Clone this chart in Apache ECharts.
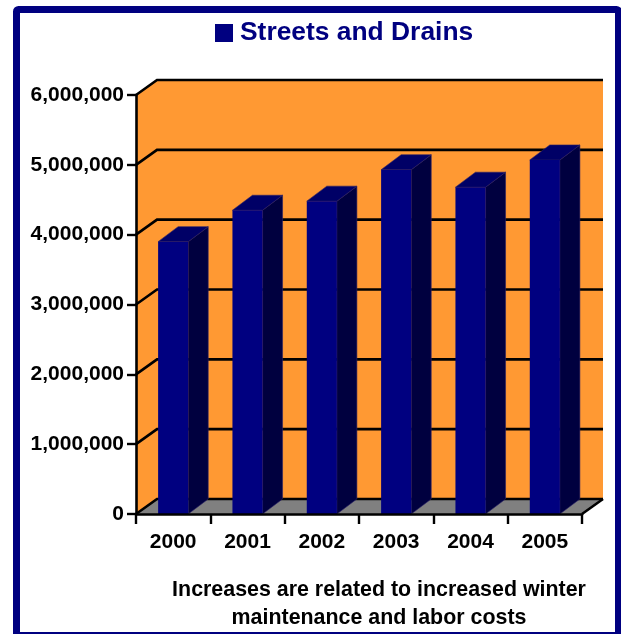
<!DOCTYPE html>
<html>
<head>
<meta charset="utf-8">
<style>html,body{margin:0;padding:0;background:#fff;overflow:hidden}#c{width:621px;height:634px}</style>
<script src="https://cdn.jsdelivr.net/npm/echarts@6/dist/echarts.min.js"></script>
</head>
<body>
<div id="c"></div>
<script>
const seriesName = 'Streets and Drains';
const years = ['2000', '2001', '2002', '2003', '2004', '2005'];
const costs = [3900000, 4350000, 4480000, 4930000, 4680000, 5070000];
const yTicks = [0, 1000000, 2000000, 3000000, 4000000, 5000000, 6000000];
const noteText = 'Increases are related to increased winter\nmaintenance and labor costs';

const DX = 21, DY = -15;
const FONT = '"Liberation Sans", Arial, sans-serif';
const chart = echarts.init(document.getElementById('c'), null, {renderer: 'canvas'});

function poly(points, fill, z2, stroke, lw) {
  return {type: 'polygon', z2: z2 || 0, shape: {points},
    style: {fill, stroke: stroke || null, lineWidth: lw || 0}};
}
function line(points, z2) {
  return {type: 'polyline', z2: z2 || 1, shape: {points},
    style: {fill: null, stroke: '#000', lineWidth: 2.6}};
}

function renderWalls(params, api) {
  const cs = params.coordSys;
  const l = cs.x, r = cs.x + cs.width;
  const y0 = api.coord([years[0], yTicks[0]])[1];
  const yT = api.coord([years[0], yTicks[yTicks.length - 1]])[1];
  const kids = [
    poly([[l + DX, yT + DY], [r + DX, yT + DY], [r + DX, y0 + DY], [l + DX, y0 + DY]], '#FF9933'),
    poly([[l, yT], [l + DX, yT + DY], [l + DX, y0 + DY], [l, y0]], '#FF9933'),
    poly([[l, y0], [l + DX, y0 + DY], [r + DX, y0 + DY], [r, y0]], '#808080')
  ];
  yTicks.forEach(t => {
    const y = api.coord([years[0], t])[1];
    kids.push(line([[l, y], [l + DX, y + DY], [r + DX, y + DY]]));
  });
  kids.push(line([[r, y0], [r + DX, y0 + DY]]));
  return {type: 'group', children: kids};
}

function renderBar(params, api) {
  const p = api.coord([api.value(0), api.value(1)]);
  const base = api.coord([api.value(0), 0]);
  const w = api.size([1, 0])[0] * 0.405;
  const x0 = p[0] - w / 2, x1 = p[0] + w / 2, yt = p[1], yb = base[1];
  const dx = 20, dy = DY, edge = '#2a2266';
  return {type: 'group', children: [
    poly([[x1, yt], [x1 + dx, yt + dy], [x1 + dx, yb + dy], [x1, yb]], '#00003F', 1, edge, 0.6),
    poly([[x0, yt], [x0 + dx, yt + dy], [x1 + dx, yt + dy], [x1, yt]], '#000066', 1, edge, 0.6),
    poly([[x0, yt], [x1, yt], [x1, yb], [x0, yb]], '#000080', 2)
  ]};
}

chart.setOption({
  animation: false,
  backgroundColor: '#fff',
  graphic: [{
    type: 'rect', z: -10, silent: true,
    shape: {x: 16.5, y: 9.5, width: 602, height: 626, r: 2},
    style: {fill: '#fff', stroke: '#000080', lineWidth: 7}
  }],
  title: {
    text: noteText, left: 374, top: 571, textAlign: 'center',
    textStyle: {fontFamily: FONT, fontSize: 21.4, fontWeight: 'bold', color: '#000', lineHeight: 28}
  },
  legend: {
    data: [{name: seriesName, icon: 'rect'}],
    left: 210, top: 15, itemWidth: 18, itemHeight: 18, itemGap: 9,
    selectedMode: false,
    textStyle: {fontFamily: FONT, fontSize: 26.4, fontWeight: 'bold', color: '#000080', padding: [0, 0, 0, 2]}
  },
  grid: {left: 136, right: 39, top: 95, bottom: 120, containLabel: false},
  xAxis: {
    type: 'category', data: years, z: 5,
    axisLine: {lineStyle: {color: '#000', width: 2.6}},
    axisTick: {show: true, alignWithLabel: false, length: 10, lineStyle: {color: '#000', width: 2.4}},
    axisLabel: {fontFamily: FONT, fontSize: 21, fontWeight: 'bold', color: '#000', margin: 18}
  },
  yAxis: {
    type: 'value', min: 0, max: 6000000, interval: 1000000, z: 5,
    axisLine: {show: true, lineStyle: {color: '#000', width: 2.6}},
    axisTick: {show: true, length: 9, lineStyle: {color: '#000', width: 2.4}},
    splitLine: {show: false},
    axisLabel: {fontFamily: FONT, fontSize: 21, fontWeight: 'bold', color: '#000', margin: 12,
      formatter: v => v.toLocaleString('en-US')}
  },
  series: [
    {type: 'custom', name: 'walls', z: 1, silent: true, clip: false,
     renderItem: renderWalls, encode: {x: 0, y: 1}, data: [[years[0], 0]]},
    {type: 'custom', name: seriesName, z: 3, silent: true, clip: false,
     itemStyle: {color: '#000080'},
     renderItem: renderBar, encode: {x: 0, y: 1},
     data: years.map((y, i) => [y, costs[i]])}
  ]
});
</script>
</body>
</html>
